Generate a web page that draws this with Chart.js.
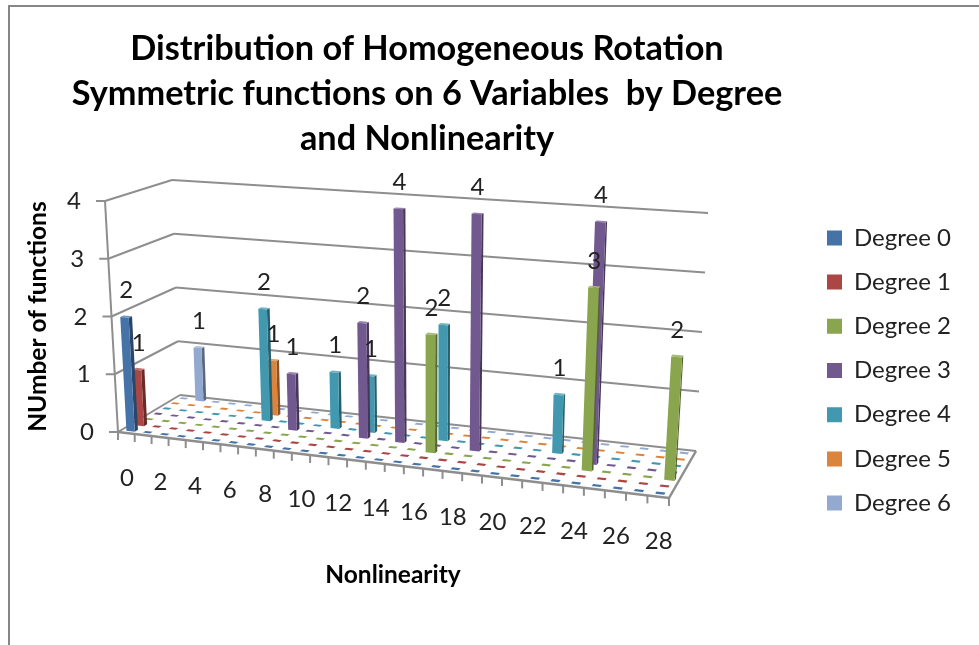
<!DOCTYPE html>
<html>
<head>
<meta charset="utf-8">
<style>html,body{margin:0;padding:0;background:#fff}canvas{display:block;filter:blur(0.4px)}</style>
<script src="https://cdn.jsdelivr.net/npm/chart.js@4"></script>
</head>
<body>
<canvas id="c" width="979" height="645"></canvas>
<script>
const nonlinearity = ['0','1','2','3','4','5','6','7','8','9','10','11','12','13','14','15','16','17','18','19','20','21','22','23','24','25','26','27','28'];
const degree0 = [2,0,0,0,0,0,0,0,0,0,0,0,0,0,0,0,0,0,0,0,0,0,0,0,0,0,0,0,0];
const degree1 = [1,0,0,0,0,0,0,0,0,0,0,0,0,0,0,0,0,0,0,0,0,0,0,0,0,0,0,0,0];
const degree2 = [0,0,0,0,0,0,0,0,0,0,0,0,0,0,0,0,2,0,0,0,0,0,0,0,3,0,0,0,2];
const degree3 = [0,0,0,0,0,0,0,0,1,0,0,0,2,0,4,0,0,0,4,0,0,0,0,0,4,0,0,0,0];
const degree4 = [0,0,0,0,0,0,2,0,0,0,1,0,1,0,0,0,2,0,0,0,0,0,1,0,0,0,0,0,0];
const degree5 = [0,0,0,0,0,0,1,0,0,0,0,0,0,0,0,0,0,0,0,0,0,0,0,0,0,0,0,0,0];
const degree6 = [0,1,0,0,0,0,0,0,0,0,0,0,0,0,0,0,0,0,0,0,0,0,0,0,0,0,0,0,0];
const seriesNames = ['Degree 0','Degree 1','Degree 2','Degree 3','Degree 4','Degree 5','Degree 6'];
const seriesValues = [degree0,degree1,degree2,degree3,degree4,degree5,degree6];
const seriesColors = ['#4572A7','#AA4643','#89A54E','#71588F','#4198AF','#DB843D','#93A9CF'];
const titleLines = ['Distribution of Homogeneous Rotation','Symmetric functions on 6 Variables  by Degree','and Nonlinearity'];

/* camera: where the box corners of the 3-D plot land on the page */
const FLOOR = [[118,432],[669,498],[696,451],[180,395]];
const ROOF  = [[105,201],[686,241],[708,213],[172,180]];
const GRID = '#8e8e8e';

function quadMap(q){
  const [[x0,y0],[x1,y1],[x2,y2],[x3,y3]] = q;
  const sx=x0-x1+x2-x3, sy=y0-y1+y2-y3, dx1=x1-x2, dx2=x3-x2, dy1=y1-y2, dy2=y3-y2;
  const den=dx1*dy2-dx2*dy1, g=(sx*dy2-dx2*sy)/den, h=(dx1*sy-sx*dy1)/den;
  const a=x1-x0+g*x1, b=x3-x0+h*x3, d=y1-y0+g*y1, e=y3-y0+h*y3;
  return (u,v)=>{const w=g*u+h*v+1;return [(a*u+b*v+x0)/w,(d*u+e*v+y0)/w];};
}
const floorAt = quadMap(FLOOR), roofAt = quadMap(ROOF);
function P(u,v,f){const a=floorAt(u,v),b=roofAt(u,v);return [a[0]+(b[0]-a[0])*f,a[1]+(b[1]-a[1])*f];}
function shade(hex,k){
  const n=parseInt(hex.slice(1),16);
  const c=[n>>16,(n>>8)&255,n&255].map(x=>Math.round(k<1?x*k:x+(255-x)*(k-1)));
  return `rgb(${c.join(',')})`;
}
function poly(ctx,pts,fill){ctx.beginPath();pts.forEach((p,i)=>i?ctx.lineTo(p[0],p[1]):ctx.moveTo(p[0],p[1]));ctx.closePath();ctx.fillStyle=fill;ctx.fill();}
function line(ctx,a,b,w){ctx.beginPath();ctx.moveTo(a[0],a[1]);ctx.lineTo(b[0],b[1]);ctx.lineWidth=w;ctx.strokeStyle=GRID;ctx.stroke();}
const uOf=(chart,i)=>(chart.scales.x.getPixelForValue(i)-chart.chartArea.left)/chart.chartArea.width;
const fOf=(chart,val)=>(chart.chartArea.bottom-chart.scales.y.getPixelForValue(val))/chart.chartArea.height;
const vOf=k=>(k+0.5)/seriesNames.length;
const barShift=0.07/nonlinearity.length, topInset=0.006;

const plot3d = {
  id:'plot3d',
  afterLayout(chart){
    const t=chart.titleBlock; t.left-=69; t.right-=69;
    const x=chart.scales.x; x.right=2*393-x.left;
    const g=chart.legend, pad=g.options.labels.padding, delta=370.5-(g.top+g.bottom)/2;
    g.top+=delta; g.bottom+=delta;
    const w=g.right-g.left; g.left=827-pad; g.right=g.left+w;
  },
  afterDatasetsUpdate(chart){
    const cols=nonlinearity.length, rows=seriesNames.length;
    const du=0.25/cols, duDash=0.21/cols, dvBar=0.17/rows, dvDash=0.15/rows;
    chart.data.datasets.forEach((ds,k)=>{
      chart.getDatasetMeta(k).data.forEach((el,i)=>{
        const u0=uOf(chart,i), u=u0+barShift, v=vOf(k), f=fOf(chart,ds.data[i])-topInset, col=ds.backgroundColor;
        el.x=P(u,v,0)[0]; el.base=P(u,v,0)[1]; el.y=P(u,v,f)[1]; el.width=P(u+du,v,0)[0]-P(u-du,v,0)[0];
        el.draw=function(ctx){
          ctx.save();
          if(ds.data[i]===0){
            poly(ctx,[P(u0-duDash,v-dvDash,0),P(u0+duDash,v-dvDash,0),P(u0+duDash,v+dvDash,0),P(u0-duDash,v+dvDash,0)],col);
          }else{
            poly(ctx,[P(u+du,v-dvBar,0),P(u+du,v+dvBar,0),P(u+du,v+dvBar,f),P(u+du,v-dvBar,f)],shade(col,0.62));
            poly(ctx,[P(u-du,v-dvBar,f),P(u+du,v-dvBar,f),P(u+du,v+dvBar,f),P(u-du,v+dvBar,f)],shade(col,1.25));
            poly(ctx,[P(u-du,v-dvBar,0),P(u+du,v-dvBar,0),P(u+du,v-dvBar,f),P(u-du,v-dvBar,f)],col);
          }
          ctx.restore();
        };
      });
    });
  },
  beforeDraw(chart){
    const ctx=chart.ctx;
    ctx.save();
    ctx.strokeStyle='#868686';ctx.lineWidth=2;
    ctx.beginPath();ctx.moveTo(9,645);ctx.lineTo(9,6);ctx.lineTo(979,6);ctx.stroke();
    ctx.restore();
    const xs=chart.scales.x, ys=chart.scales.y;
    xs.getLabelItems(chart.chartArea).forEach((it,i)=>{
      const p=P(uOf(chart,i),0,0);
      it.textOffset=0; it.options.textAlign='center'; it.options.textBaseline='middle';
      it.options.translation=[p[0]+0.5,p[1]+45];
    });
    ys.getLabelItems(chart.chartArea).forEach((it,i)=>{
      const f=fOf(chart,ys.ticks[i].value), p=P(0,0,f);
      it.textOffset=0; it.options.textAlign='right'; it.options.textBaseline='middle';
      it.options.translation=[p[0]-24,p[1]+0.5];
    });
  },
  beforeDatasetsDraw(chart){
    const ctx=chart.ctx, ys=chart.scales.y, cols=nonlinearity.length;
    ctx.save();
    ys.ticks.forEach(t=>{
      const f=fOf(chart,t.value), a=P(0,0,f), b=P(0,1,f), c=P(1,1,f);
      line(ctx,[a[0]-9,a[1]],a,2);
      line(ctx,a,b,2);
      line(ctx,b,c,2);
    });
    line(ctx,P(0,0,0),P(0,0,1),2);
    line(ctx,P(0,0,0),P(1,0,0),2.5);
    line(ctx,P(1,0,0),P(1,1,0),2.5);
    for(let i=0;i<=cols;i++){const p=P(i/cols,0,0);line(ctx,p,[p[0],p[1]+8],2);}
    ctx.restore();
  },
  afterDatasetsDraw(chart){
    const ctx=chart.ctx;
    ctx.save();
    ctx.font='24px Lato';ctx.fillStyle='#222';ctx.textAlign='center';ctx.textBaseline='middle';
    chart.data.datasets.forEach((ds,k)=>ds.data.forEach((val,i)=>{
      if(!val)return;
      const p=P(uOf(chart,i)+barShift,vOf(k),fOf(chart,val)-topInset);
      ctx.fillText(String(val),p[0],p[1]-26);
    }));
    ctx.restore();
  }
};

new Chart(document.getElementById('c'),{
  type:'bar',
  data:{
    labels:nonlinearity,
    datasets:seriesNames.map((name,k)=>({label:name,data:seriesValues[k],backgroundColor:seriesColors[k],borderWidth:0,clip:false}))
  },
  options:{
    responsive:false,animation:false,
    events:[],
    layout:{padding:{left:23,right:10,top:0,bottom:55}},
    scales:{
      x:{
        grid:{display:false},border:{display:false},
        ticks:{autoSkip:false,maxRotation:0,minRotation:0,color:'#222',font:{family:'Lato',size:24},
          callback(v,i){return i%2?'':nonlinearity[i];}},
        title:{display:true,text:'Nonlinearity',color:'#000',font:{family:'Lato',size:24.5,weight:'bold'},padding:0},
        afterFit(s){s.height=158;}
      },
      y:{
        min:0,max:4,
        grid:{display:false},border:{display:false},
        ticks:{stepSize:1,color:'#222',font:{family:'Lato',size:24}},
        title:{display:true,text:'NUmber of functions',color:'#000',font:{family:'Lato',size:24.5,weight:'bold'},padding:0},
        afterFit(s){s.width=82;}
      }
    },
    plugins:{
      title:{display:true,text:titleLines,color:'#000',align:'center',
        font:{family:'Lato',size:34.3,weight:'bold',lineHeight:1.313},padding:{top:26,bottom:40}},
      legend:{position:'right',labels:{color:'#222',boxWidth:15,boxHeight:15,padding:20.2,font:{family:'Lato',size:24}}},
      tooltip:{enabled:false}
    }
  },
  plugins:[plot3d]
});
</script>
</body>
</html>
